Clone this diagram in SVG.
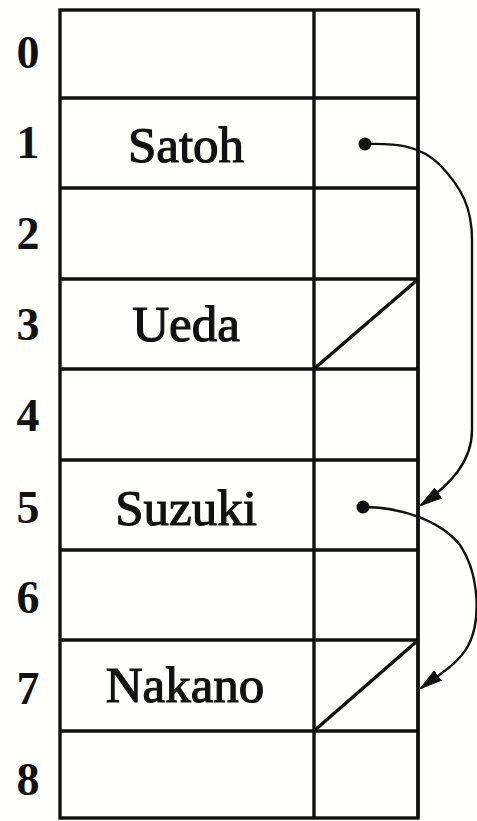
<svg xmlns="http://www.w3.org/2000/svg" width="477" height="821" viewBox="0 0 477 821">
  <defs>
    <style>
      .grid { stroke: #111; stroke-width: 3.4; fill: none; }
      .name { font-family: "Liberation Serif", "DejaVu Serif", serif; font-size: 51px; fill: #111; stroke: #111; stroke-width: 1.2; text-anchor: middle; }
      .idx { font-family: "Liberation Serif", "DejaVu Serif", serif; font-size: 46px; font-weight: bold; fill: #111; text-anchor: middle; }
      .link { stroke: #111; stroke-width: 2.4; fill: none; }
      .dot { fill: #111; }
    </style>
    <marker id="head" markerUnits="userSpaceOnUse" markerWidth="24" markerHeight="14" refX="21" refY="7" orient="auto">
      <path d="M0,1 L22,7 L0,13 z" fill="#111" stroke="#111" stroke-width="1"/>
    </marker>
  </defs>

  <rect width="477" height="821" fill="#fffffb"/>

  <!-- table frame and grid -->
  <g id="table">
    <rect x="60" y="10" width="358" height="808" class="grid"/>
    <line x1="418" y1="10" x2="418" y2="818" class="grid" stroke-width="4.2"/>
    <line x1="314" y1="10" x2="314" y2="818" class="grid"/>
    <line x1="60" y1="98" x2="418" y2="98" class="grid"/>
    <line x1="60" y1="188" x2="418" y2="188" class="grid"/>
    <line x1="60" y1="279" x2="418" y2="279" class="grid"/>
    <line x1="60" y1="369" x2="418" y2="369" class="grid"/>
    <line x1="60" y1="460" x2="418" y2="460" class="grid"/>
    <line x1="60" y1="550" x2="418" y2="550" class="grid"/>
    <line x1="60" y1="640" x2="418" y2="640" class="grid"/>
    <line x1="60" y1="731" x2="418" y2="731" class="grid"/>
  </g>

  <!-- row indices -->
  <g id="indices">
    <text class="idx" x="28" y="68">0</text>
    <text class="idx" x="28" y="158">1</text>
    <text class="idx" x="28" y="249">2</text>
    <text class="idx" x="28" y="340">3</text>
    <text class="idx" x="28" y="431">4</text>
    <text class="idx" x="28" y="523">5</text>
    <text class="idx" x="28" y="613">6</text>
    <text class="idx" x="28" y="704">7</text>
    <text class="idx" x="28" y="795">8</text>
  </g>

  <!-- occupied slots -->
  <g id="slot1">
    <text class="name" x="186" y="162">Satoh</text>
  </g>
  <g id="slot3">
    <text class="name" x="186" y="341">Ueda</text>
    <line x1="416" y1="281" x2="315" y2="368" class="grid" stroke-width="2.4"/>
  </g>
  <g id="slot5">
    <text class="name" x="186" y="525">Suzuki</text>
  </g>
  <g id="slot7">
    <text class="name" x="185" y="702">Nakano</text>
    <line x1="416" y1="642" x2="315" y2="730" class="grid" stroke-width="2.4"/>
  </g>

  <!-- chain links -->
  <g id="links">
    <circle class="dot" cx="365" cy="144" r="6.5"/>
    <path class="link" marker-end="url(#head)" d="M365,144 C395,143 420,145 440,165 C462,188 472,208 472,240 L472,430 C472,462 450,485 421,505"/>
    <circle class="dot" cx="363" cy="507" r="6.5"/>
    <path class="link" marker-end="url(#head)" d="M363,507 C400,507 440,520 460,545 C480,575 481,622 468,646 C458,664 440,674 421,688"/>
  </g>
</svg>
